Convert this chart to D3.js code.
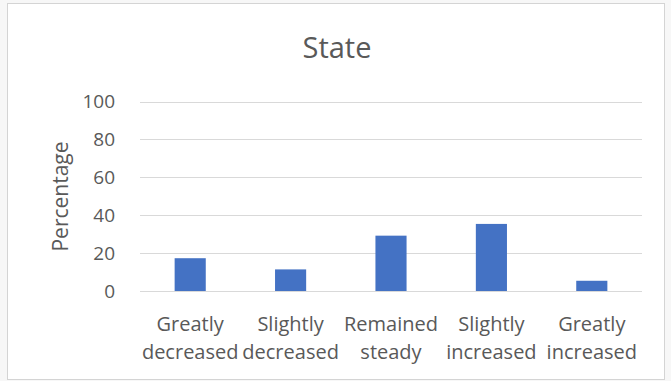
<!DOCTYPE html>
<html>
<head>
<meta charset="utf-8">
<script src="https://cdn.jsdelivr.net/npm/d3@7"></script>
<style>
  html, body { margin: 0; padding: 0; background: #f7f7f7; }
  svg { display: block; }
  text { font-family: "Open Sans", "Noto Sans", sans-serif; fill: #595959; }
</style>
</head>
<body>
<svg id="chart" width="671" height="381"></svg>
<script>
// Survey categories (two-line labels) and percentages
const categories = ["Greatly decreased", "Slightly decreased", "Remained steady", "Slightly increased", "Greatly increased"];
const labelLines = [["Greatly", "decreased"], ["Slightly", "decreased"], ["Remained", "steady"], ["Slightly", "increased"], ["Greatly", "increased"]];
const percentages = [17.3, 11.4, 29.2, 35.4, 5.4];
const yTicks = [0, 20, 40, 60, 80, 100];
const chartTitle = "State";
const yTitle = "Percentage";

const svg = d3.select("#chart");

// chart area frame
svg.append("rect")
  .attr("x", 7.5).attr("y", 3.5)
  .attr("width", 657).attr("height", 376)
  .attr("fill", "#ffffff")
  .attr("stroke", "#d4d4d4")
  .attr("stroke-width", 1);

const plot = { left: 140, right: 642, top: 101.5, bottom: 291 };

const x = d3.scaleBand()
  .domain(categories)
  .range([plot.left, plot.right])
  .paddingInner(0.69)
  .paddingOuter(0.345);

const y = d3.scaleLinear()
  .domain([0, 100])
  .range([plot.bottom, plot.top]);

// horizontal gridlines
svg.append("g")
  .selectAll("line")
  .data(yTicks)
  .join("line")
  .attr("x1", plot.left).attr("x2", plot.right)
  .attr("y1", d => Math.round(y(d)) + 0.5)
  .attr("y2", d => Math.round(y(d)) + 0.5)
  .attr("stroke", "#d9d9d9")
  .attr("stroke-width", 1);

// y axis labels
const yAxis = d3.axisLeft(y).tickValues(yTicks).tickSize(0).tickPadding(25);
const gy = svg.append("g")
  .attr("transform", `translate(${plot.left},0)`)
  .call(yAxis);
gy.select(".domain").remove();
gy.selectAll("text")
  .attr("font-size", 19)
  .style("font-family", '"Open Sans", "Noto Sans", sans-serif')
  .attr("fill", "#595959");

// bars
svg.append("g")
  .selectAll("rect")
  .data(percentages)
  .join("rect")
  .attr("x", (d, i) => x(categories[i]))
  .attr("width", x.bandwidth())
  .attr("y", d => y(d))
  .attr("height", d => y(0) - y(d))
  .attr("fill", "#4472c4");

// category labels (two lines each)
const xl = svg.append("g")
  .selectAll("text")
  .data(categories)
  .join("text")
  .attr("text-anchor", "middle")
  .attr("font-size", 20);
xl.each(function(c, i) {
  const t = d3.select(this);
  const cx = x(c) + x.bandwidth() / 2;
  labelLines[i].forEach((line, k) => {
    t.append("tspan")
      .attr("x", cx)
      .attr("y", 331 + k * 27.5)
      .text(line);
  });
});

// title
svg.append("text")
  .attr("x", 337)
  .attr("y", 57.5)
  .attr("text-anchor", "middle")
  .attr("font-size", 29)
  .text(chartTitle);

// y axis title
svg.append("text")
  .attr("transform", `translate(68,196.5) rotate(-90)`)
  .attr("text-anchor", "middle")
  .attr("font-size", 21)
  .text(yTitle);
</script>
</body>
</html>
